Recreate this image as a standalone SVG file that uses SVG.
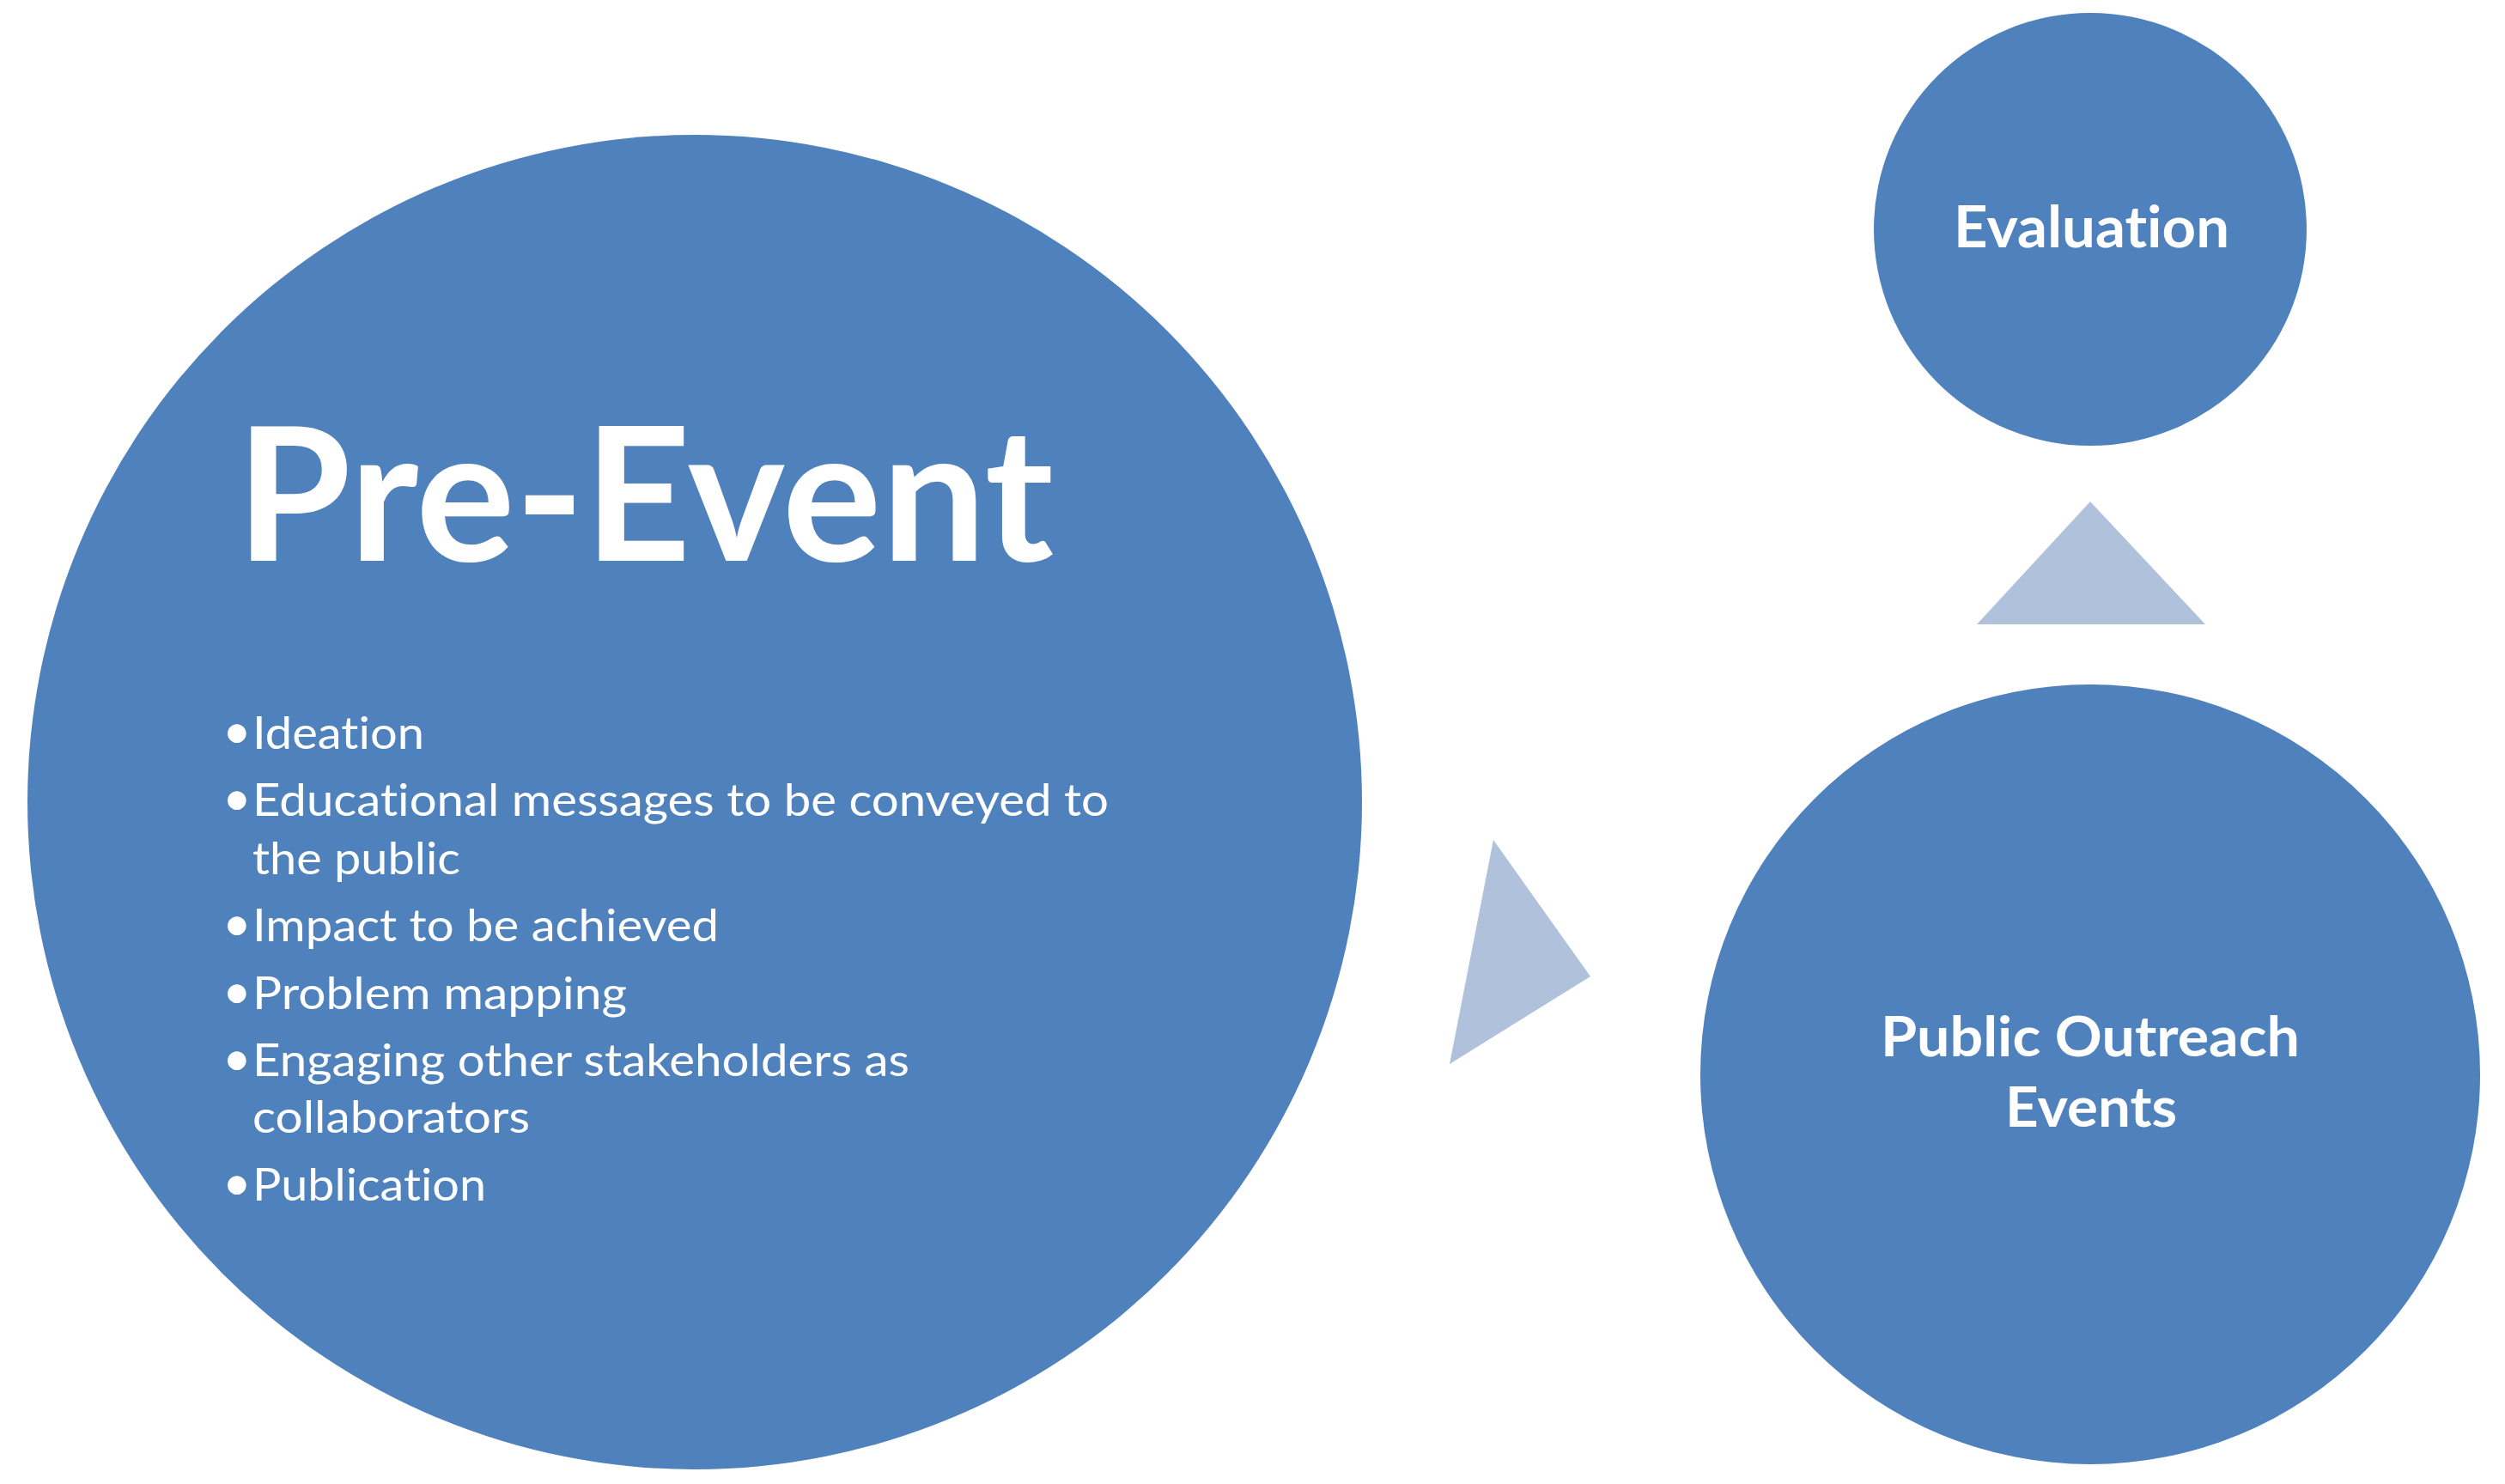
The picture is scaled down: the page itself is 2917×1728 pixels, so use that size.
<svg xmlns="http://www.w3.org/2000/svg" width="2917" height="1728" viewBox="0 0 2917 1728">
<style>
.node{fill:#4F81BD}
.conn{fill:#B0C1DC}
.t{font-family:Lato,"Open Sans","Liberation Sans",sans-serif;fill:#FFFFFF;font-variant-ligatures:none;font-feature-settings:"liga" 0,"clig" 0}
.b{font-weight:bold}
.li{font-size:52px}
.bu{font-size:58px}
</style>
<rect width="2917" height="1728" fill="#FFFFFF"/>
<g id="connectors">
<polygon class="conn" points="1739,978 1852,1137 1688,1239"/>
<polygon class="conn" points="2434,584 2568,727 2302,727"/>
</g>
<g id="pre-event">
<circle class="node" cx="809" cy="934" r="777"/>
<text class="t b" x="275" y="653" font-size="216" textLength="952" lengthAdjust="spacingAndGlyphs">Pre-Event</text>
<g class="t li">
<text class="bu" x="259" y="872">•</text><text x="294" y="872" textLength="200" lengthAdjust="spacingAndGlyphs">Ideation</text>
<text class="bu" x="259" y="950">•</text><text x="294" y="950" textLength="997" lengthAdjust="spacingAndGlyphs">Educational messages to be conveyed to</text>
<text x="294" y="1018" textLength="242" lengthAdjust="spacingAndGlyphs">the public</text>
<text class="bu" x="259" y="1096">•</text><text x="294" y="1096" textLength="543" lengthAdjust="spacingAndGlyphs">Impact to be achieved</text>
<text class="bu" x="259" y="1175">•</text><text x="294" y="1175" textLength="436" lengthAdjust="spacingAndGlyphs">Problem mapping</text>
<text class="bu" x="259" y="1253">•</text><text x="294" y="1253" textLength="765" lengthAdjust="spacingAndGlyphs">Engaging other stakeholders as</text>
<text x="294" y="1319" textLength="323" lengthAdjust="spacingAndGlyphs">collaborators</text>
<text class="bu" x="259" y="1398">•</text><text x="294" y="1398" textLength="272" lengthAdjust="spacingAndGlyphs">Publication</text>
</g>
</g>
<g id="evaluation">
<circle class="node" cx="2434" cy="267" r="252"/>
<text class="t b" x="2275" y="288" font-size="67" textLength="321" lengthAdjust="spacingAndGlyphs">Evaluation</text>
</g>
<g id="public-outreach">
<circle class="node" cx="2434" cy="1251" r="454"/>
<text class="t b" x="2190" y="1230" font-size="65" textLength="488" lengthAdjust="spacingAndGlyphs">Public Outreach</text>
<text class="t b" x="2335" y="1312" font-size="65" textLength="200" lengthAdjust="spacingAndGlyphs">Events</text>
</g>
</svg>
